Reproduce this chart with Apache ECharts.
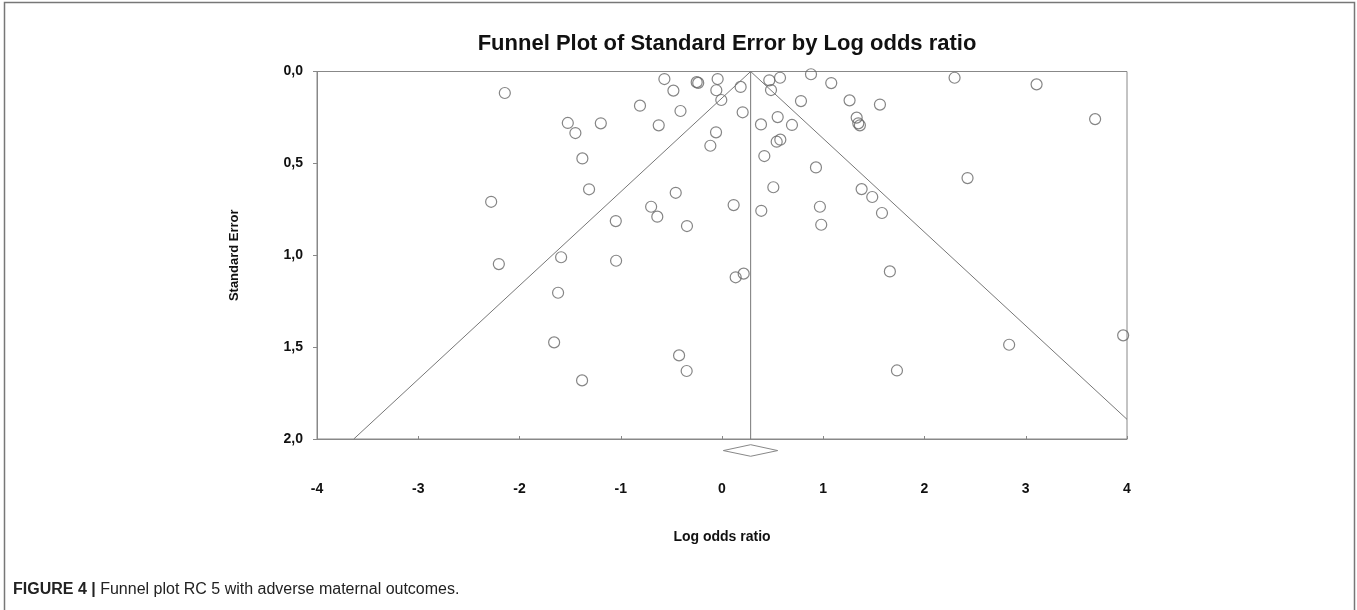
<!DOCTYPE html>
<html>
<head>
<meta charset="utf-8">
<script src="https://cdn.jsdelivr.net/npm/echarts@6/dist/echarts.min.js"></script>
<style>
html,body{margin:0;padding:0;background:#fff;}
#chart{width:1357px;height:610px;}
</style>
</head>
<body>
<div id="chart"></div>
<script>
// Study points: [log odds ratio, standard error]
const studyLogOR = [
  -2.145, -1.523, -1.448, -1.379, -2.28, -1.197, -1.313, -1.049, -0.81, -0.625,
  -0.569, -0.48, -0.41, -0.25, -0.235, -0.043, -0.056, -0.007, 0.184, 0.204,
  -0.059, -0.115, -0.70, -0.639, -0.457, -0.346, 0.115, 0.467, 0.573, 0.484,
  0.879, 1.079, 0.78, 0.385, 0.55, 0.691, 0.54, 0.576, 0.418, 0.928,
  0.507, 0.388, 0.967, 0.98, 1.26, 1.56, 1.33, 1.346, 1.362, 2.297,
  3.107, 3.685, 2.425, 1.379, 1.484, 1.58, -2.204, -1.589, -1.619, -1.658,
  -1.382, -1.046, 0.135, 0.214, -0.424, -0.349, 1.658, 1.728, 2.836, 3.962
];
const studySE = [
  0.117, 0.280, 0.335, 0.473, 0.709, 0.282, 0.641, 0.814, 0.186, 0.293,
  0.041, 0.104, 0.215, 0.058, 0.062, 0.041, 0.102, 0.155, 0.084, 0.222,
  0.331, 0.404, 0.736, 0.790, 0.660, 0.841, 0.727, 0.048, 0.034, 0.101,
  0.015, 0.063, 0.161, 0.288, 0.248, 0.291, 0.382, 0.371, 0.460, 0.522,
  0.630, 0.758, 0.736, 0.834, 0.157, 0.180, 0.251, 0.282, 0.293, 0.034,
  0.070, 0.259, 0.580, 0.640, 0.683, 0.770, 1.048, 1.011, 1.204, 1.474,
  1.681, 1.030, 1.120, 1.100, 1.545, 1.630, 1.088, 1.627, 1.487, 1.436
];
// Pooled estimate line and 95% funnel limits (endpoints)
const pooledLine = [[0.283, 0], [0.283, 2.0]];
const funnelLeft = [[0.283, 0], [-3.637, 2.0]];
const funnelRight = [[0.283, 0], [4.0, 1.893]];
// Summary diamond (lower, estimate, upper) drawn below axis
const diamondPts = [[0.013, 2.063], [0.283, 2.031], [0.55, 2.063], [0.283, 2.094], [0.013, 2.063]];
// Tick labels
const xTickLabels = ['-4', '-3', '-2', '-1', '0', '1', '2', '3', '4'];
const yTickLabels = ['0,0', '0,5', '1,0', '1,5', '2,0'];

const points = studyLogOR.map((x, i) => [x, studySE[i]]);
const font = 'Liberation Sans, Arial, sans-serif';

const chart = echarts.init(document.getElementById('chart'), null, {renderer: 'canvas'});
chart.setOption({
  animation: false,
  backgroundColor: '#fff',
  title: {
    text: 'Funnel Plot of Standard Error by Log odds ratio',
    left: 722, top: 28, textAlign: 'center',
    textStyle: {fontFamily: font, fontWeight: 'bold', fontSize: 22, color: '#111'}
  },
  graphic: [
    {type: 'polyline', silent: true, shape: {points: [[4.5, 612], [4.5, 2.5], [1354.5, 2.5], [1354.5, 612]]},
     style: {stroke: '#777', lineWidth: 1.5, fill: null}},
    {type: 'text', left: 13, top: 582, silent: true,
     style: {text: '{b|FIGURE 4 |} Funnel plot RC 5 with adverse maternal outcomes.',
       rich: {b: {fontWeight: 'bold', fontSize: 16, fontFamily: font, fill: '#222'}},
       fontFamily: font, fontSize: 16, fill: '#222'}}
  ],
  grid: {left: 317, right: 230, top: 71.5, bottom: 171, show: true, borderColor: '#888', borderWidth: 1},
  xAxis: {
    type: 'value', min: -4, max: 4, interval: 1,
    name: 'Log odds ratio', nameLocation: 'middle', nameGap: 91,
    nameTextStyle: {fontFamily: font, fontWeight: 'bold', fontSize: 14, color: '#111'},
    axisLine: {show: true, onZero: false, lineStyle: {color: '#888'}},
    axisTick: {show: true, inside: true, length: 3, lineStyle: {color: '#888'}},
    axisLabel: {margin: 43, fontFamily: font, fontWeight: 'bold', fontSize: 14, color: '#111',
      formatter: v => xTickLabels[Math.round(v + 4)]},
    splitLine: {show: false}
  },
  yAxis: {
    type: 'value', min: 0, max: 2, interval: 0.5, inverse: true,
    name: 'Standard Error', nameLocation: 'middle', nameGap: 76, nameRotate: 90,
    nameTextStyle: {fontFamily: font, fontWeight: 'bold', fontSize: 13, color: '#111'},
    axisLine: {show: true, onZero: false, lineStyle: {color: '#888'}},
    axisTick: {show: true, length: 4, lineStyle: {color: '#888'}},
    axisLabel: {margin: 14, fontFamily: font, fontWeight: 'bold', fontSize: 14, color: '#111',
      formatter: v => yTickLabels[Math.round(v / 0.5)]},
    splitLine: {show: false}
  },
  series: [
    {type: 'line', data: pooledLine, symbol: 'none', lineStyle: {color: '#777', width: 1}, silent: true},
    {type: 'line', data: funnelLeft, symbol: 'none', lineStyle: {color: '#777', width: 1}, silent: true},
    {type: 'line', data: funnelRight, symbol: 'none', lineStyle: {color: '#777', width: 1}, silent: true},
    {type: 'line', data: diamondPts, symbol: 'none', clip: false, lineStyle: {color: '#888', width: 1}, silent: true},
    {type: 'scatter', data: points, symbol: 'circle', symbolSize: 11,
     itemStyle: {color: 'rgba(255,255,255,0)', borderColor: '#666', borderWidth: 1.2}, silent: true}
  ]
});
</script>
</body>
</html>
